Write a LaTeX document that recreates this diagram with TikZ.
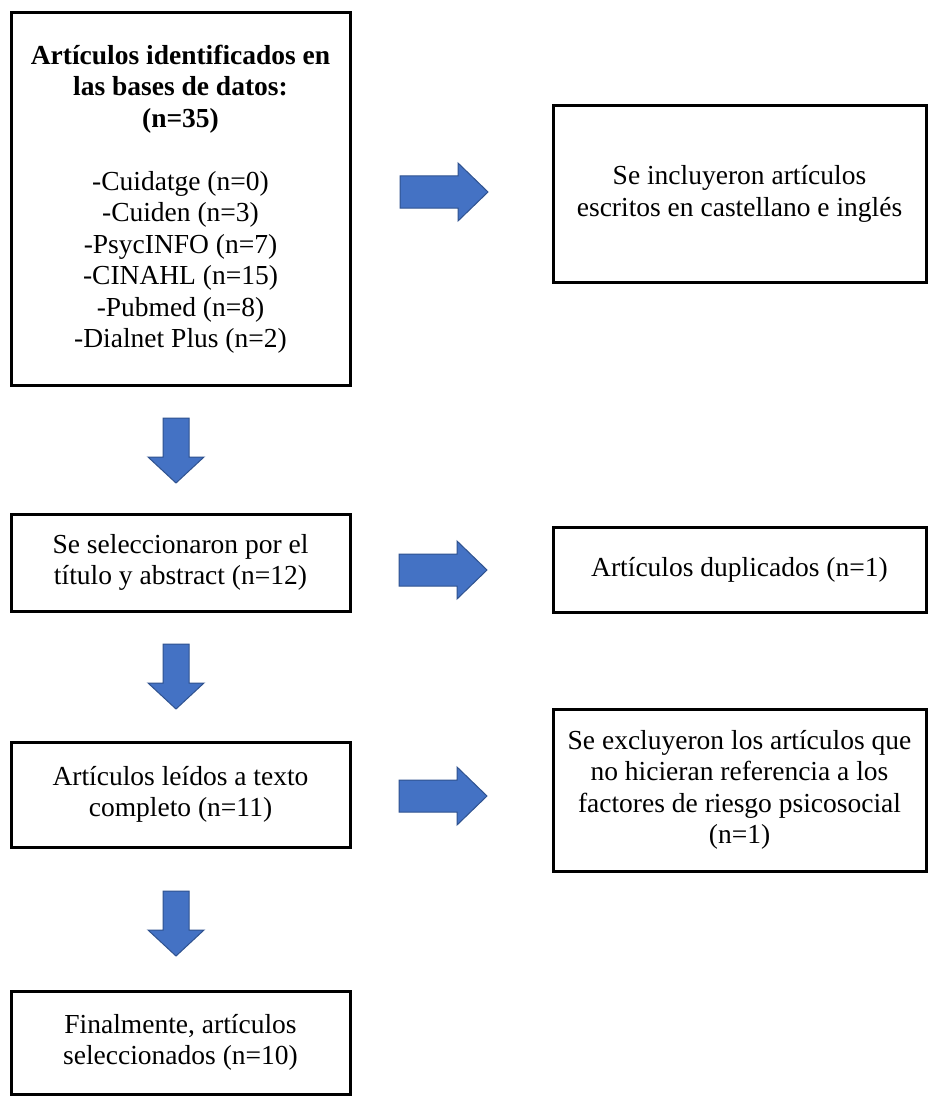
\documentclass[tikz,border=0pt]{standalone}
\usepackage{fontspec}
\setmainfont{Liberation Serif}
\definecolor{arrowfill}{HTML}{4472C4}
\definecolor{arrowline}{HTML}{2F528F}
\tikzset{
  box/.style={draw=black, line width=3pt, fill=white, align=center, inner sep=0pt,
    font=\fontsize{27.5}{31.5}\selectfont},
  leftbox/.style={box, minimum width=339pt},
  rightbox/.style={box, minimum width=373pt},
  blockarrow/.style={fill=arrowfill, draw=arrowline, line width=1pt, line join=miter},
  rarrow/.pic={\path[blockarrow] (0,-16) -- (58,-16) -- (58,-29) -- (88,0) -- (58,29) -- (58,16) -- (0,16) -- cycle;},
  darrow/.pic={\path[blockarrow] (-13,0) -- (13,0) -- (13,39) -- (28,39) -- (0,65) -- (-28,39) -- (-13,39) -- cycle;}
}
\begin{document}
\begin{tikzpicture}[x=1pt, y=-1pt]
\useasboundingbox (0,0) rectangle (927,1102);
\fill[white] (0,0) rectangle (927,1102);

\node[leftbox, minimum height=372pt] (b1) at (180.5,199)
  {\textbf{Artículos identificados en}\\ \textbf{las bases de datos:}\\ \textbf{(n=35)}\\[31.5pt]
   -Cuidatge (n=0)\\ -Cuiden (n=3)\\ -PsycINFO (n=7)\\ -CINAHL (n=15)\\ -Pubmed (n=8)\\ -Dialnet Plus (n=2)};
\node[rightbox, minimum height=176pt] (r1) at (739.5,194)
  {Se incluyeron artículos\\ escritos en castellano e inglés};

\node[leftbox, minimum height=97pt] (b2) at (180.5,562.5)
  {Se seleccionaron por el\\ título y abstract (n=12)};
\node[rightbox, minimum height=85pt] (r2) at (739.5,569.5)
  {Artículos duplicados (n=1)};

\node[leftbox, minimum height=105pt] (b3) at (180.5,794.5)
  {Artículos leídos a texto\\ completo (n=11)};
\node[rightbox, minimum height=162pt] (r3) at (739.5,790)
  {Se excluyeron los artículos que\\ no hicieran referencia a los\\ factores de riesgo psicosocial\\ (n=1)};

\node[leftbox, minimum height=103pt] (b4) at (180.5,1042.5)
  {Finalmente, artículos\\ seleccionados (n=10)};

% block arrows
\pic at (400,192) {rarrow};
\pic at (399,570) {rarrow};
\pic at (399,796) {rarrow};
\pic at (176,418) {darrow};
\pic at (176,644) {darrow};
\pic at (176,891) {darrow};
\end{tikzpicture}
\end{document}
